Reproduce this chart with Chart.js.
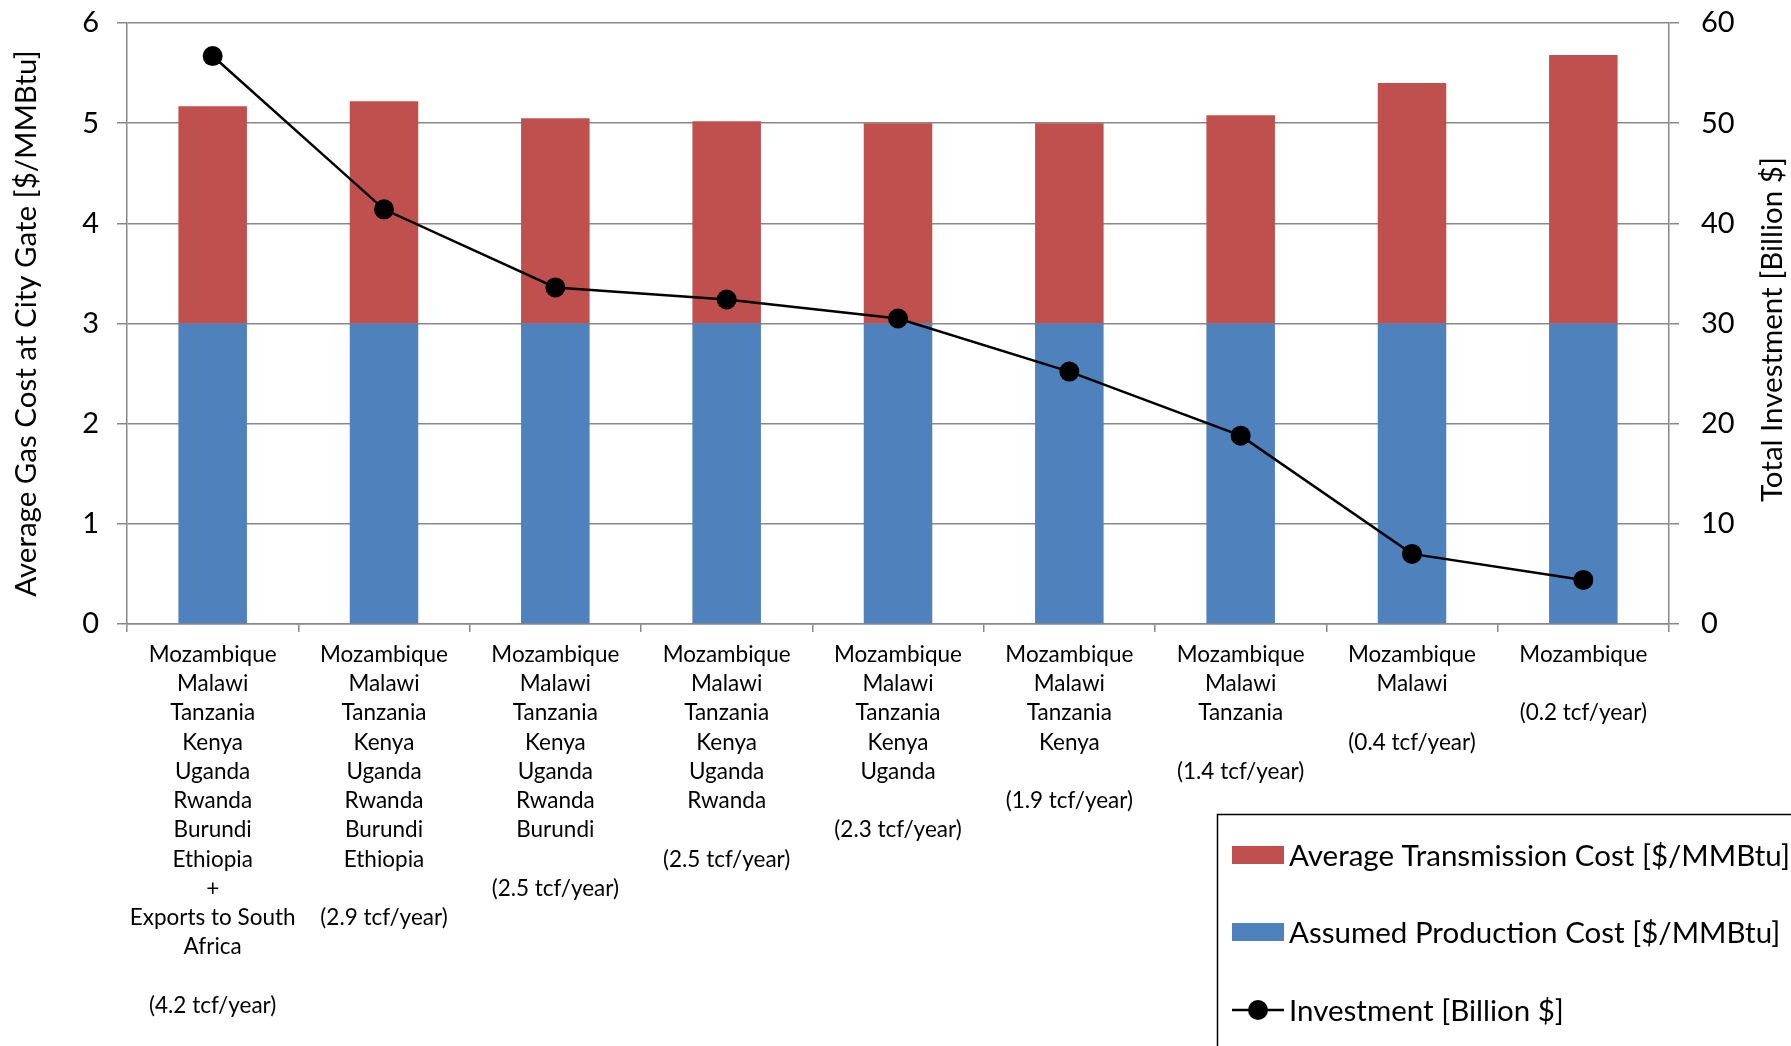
<!DOCTYPE html>
<html>
<head>
<meta charset="utf-8">
<script src="https://cdn.jsdelivr.net/npm/chart.js@4/dist/chart.umd.min.js"></script>
<style>
  html, body { margin: 0; padding: 0; background: #ffffff; }
  #wrap { width: 1791px; height: 1046px; }
</style>
</head>
<body>
<div id="wrap"><canvas id="chart" width="1791" height="1046"></canvas></div>
<script>
// Countries supplied in each pipeline scenario and the annual gas volume
const countries = [
  ["Mozambique", "Malawi", "Tanzania", "Kenya", "Uganda", "Rwanda", "Burundi", "Ethiopia", "+", "Exports to South", "Africa"],
  ["Mozambique", "Malawi", "Tanzania", "Kenya", "Uganda", "Rwanda", "Burundi", "Ethiopia"],
  ["Mozambique", "Malawi", "Tanzania", "Kenya", "Uganda", "Rwanda", "Burundi"],
  ["Mozambique", "Malawi", "Tanzania", "Kenya", "Uganda", "Rwanda"],
  ["Mozambique", "Malawi", "Tanzania", "Kenya", "Uganda"],
  ["Mozambique", "Malawi", "Tanzania", "Kenya"],
  ["Mozambique", "Malawi", "Tanzania"],
  ["Mozambique", "Malawi"],
  ["Mozambique"]
];
const volumes = ["(4.2 tcf/year)", "(2.9 tcf/year)", "(2.5 tcf/year)", "(2.5 tcf/year)", "(2.3 tcf/year)",
                 "(1.9 tcf/year)", "(1.4 tcf/year)", "(0.4 tcf/year)", "(0.2 tcf/year)"];

// $/MMBtu
const productionCost   = [3, 3, 3, 3, 3, 3, 3, 3, 3];
const transmissionCost = [2.17, 2.22, 2.05, 2.02, 2.00, 2.00, 2.08, 2.40, 2.68];
// Billion $
const investment = [56.7, 41.4, 33.6, 32.4, 30.5, 25.2, 18.8, 7.0, 4.4];

const leftTicks  = [0, 1, 2, 3, 4, 5, 6];
const rightTicks = [0, 10, 20, 30, 40, 50, 60];

const leftTitle  = "Average Gas Cost at City Gate [$/MMBtu]";
const rightTitle = "Total Investment [Billion $]";

// Each category label: country list, a blank line, then the volume
const labels = countries.map((c, i) => c.concat(["", volumes[i]]));

const FONT = "Lato, 'Open Sans', sans-serif";
const AXIS_GREY = "#888888";

// Keep tick-label padding from pushing the plot area down
function noVerticalPadding(scale) {
  scale.paddingTop = 0;
  scale.paddingBottom = 0;
}

// Right-hand axis title, reading bottom-to-top like the left one
const rightAxisTitle = {
  id: "rightAxisTitle",
  afterDraw(chart) {
    const ctx = chart.ctx;
    const a = chart.chartArea;
    ctx.save();
    ctx.translate(1772, (a.top + a.bottom) / 2 + 6);
    ctx.rotate(-Math.PI / 2);
    ctx.font = "29.5px " + FONT;
    ctx.fillStyle = "#000000";
    ctx.textAlign = "center";
    ctx.textBaseline = "middle";
    ctx.fillText(rightTitle, 0, 0);
    ctx.restore();
  }
};

// Boxed legend sitting in the lower-right corner
const boxLegend = {
  id: "boxLegend",
  afterDraw(chart) {
    const ctx = chart.ctx;
    const ds = chart.data.datasets;
    const x0 = 1217.5, y0 = 814.5;
    ctx.save();
    ctx.fillStyle = "#ffffff";
    ctx.fillRect(x0, y0, 700, 400);
    ctx.strokeStyle = "#000000";
    ctx.lineWidth = 1.5;
    ctx.strokeRect(x0, y0, 700, 400);

    const items = [
      { d: ds[1], y: 855, type: "bar" },
      { d: ds[0], y: 932, type: "bar" },
      { d: ds[2], y: 1010, type: "line" }
    ];
    ctx.font = "29.5px " + FONT;
    ctx.textBaseline = "middle";
    ctx.textAlign = "left";
    items.forEach(it => {
      if (it.type === "bar") {
        ctx.fillStyle = it.d.backgroundColor;
        ctx.fillRect(1232, it.y - 9, 52, 18);
      } else {
        ctx.strokeStyle = it.d.borderColor;
        ctx.lineWidth = 2.5;
        ctx.beginPath();
        ctx.moveTo(1232, it.y);
        ctx.lineTo(1284, it.y);
        ctx.stroke();
        ctx.fillStyle = it.d.pointBackgroundColor;
        ctx.beginPath();
        ctx.arc(1258, it.y, it.d.pointRadius, 0, Math.PI * 2);
        ctx.fill();
      }
      ctx.fillStyle = "#000000";
      ctx.fillText(it.d.label, 1289, it.y + 1);
    });
    ctx.restore();
  }
};

new Chart(document.getElementById("chart"), {
  type: "bar",
  data: {
    labels: labels,
    datasets: [
      {
        label: "Assumed Production Cost [$/MMBtu]",
        data: productionCost,
        backgroundColor: "#4F81BD",
        yAxisID: "y",
        stack: "cost",
        order: 1,
        barPercentage: 0.4,
        categoryPercentage: 1.0
      },
      {
        label: "Average Transmission Cost [$/MMBtu]",
        data: transmissionCost,
        backgroundColor: "#C0504D",
        yAxisID: "y",
        stack: "cost",
        order: 1,
        barPercentage: 0.4,
        categoryPercentage: 1.0
      },
      {
        type: "line",
        label: "Investment [Billion $]",
        data: investment,
        yAxisID: "y1",
        borderColor: "#000000",
        borderWidth: 2.5,
        pointRadius: 10,
        pointBackgroundColor: "#000000",
        pointBorderColor: "#000000",
        pointBorderWidth: 0,
        tension: 0,
        order: 0
      }
    ]
  },
  options: {
    responsive: false,
    animation: false,
    layout: { padding: { top: 23, left: 0, right: 0, bottom: 0 } },
    plugins: {
      legend: { display: false },
      tooltip: { enabled: false }
    },
    scales: {
      x: {
        stacked: true,
        offset: true,
        grid: {
          offset: true,
          drawOnChartArea: false,
          drawTicks: true,
          tickLength: 8,
          color: AXIS_GREY,
          lineWidth: 1.5
        },
        border: { display: true, color: AXIS_GREY, width: 1.5 },
        ticks: {
          autoSkip: false,
          maxRotation: 0,
          minRotation: 0,
          padding: 8,
          color: "#000000",
          font: { family: FONT, size: 22.5, lineHeight: 1.3 }
        },
        afterFit(scale) { scale.height = 422; }
      },
      y: {
        position: "left",
        stacked: true,
        min: 0,
        max: 6,
        afterBuildTicks(scale) { scale.ticks = leftTicks.map(v => ({ value: v })); },
        grid: {
          color: AXIS_GREY,
          lineWidth: 1.5,
          drawTicks: true,
          tickLength: 10
        },
        border: { display: true, color: AXIS_GREY, width: 1.5 },
        ticks: {
          padding: 18,
          color: "#000000",
          font: { family: FONT, size: 29 }
        },
        title: {
          display: true,
          text: leftTitle,
          color: "#000000",
          font: { family: FONT, size: 29.5 },
          padding: { top: 9, bottom: 0 }
        },
        afterFit(scale) { scale.width = 127; noVerticalPadding(scale); }
      },
      y1: {
        position: "right",
        min: 0,
        max: 60,
        afterBuildTicks(scale) { scale.ticks = rightTicks.map(v => ({ value: v })); },
        grid: {
          drawOnChartArea: false,
          color: AXIS_GREY,
          lineWidth: 1.5,
          drawTicks: true,
          tickLength: 10
        },
        border: { display: true, color: AXIS_GREY, width: 1.5 },
        ticks: {
          padding: 22,
          color: "#000000",
          font: { family: FONT, size: 29 }
        },
        title: { display: false },
        afterFit(scale) { scale.width = 122; noVerticalPadding(scale); }
      }
    }
  },
  plugins: [boxLegend, rightAxisTitle]
});
</script>
</body>
</html>
